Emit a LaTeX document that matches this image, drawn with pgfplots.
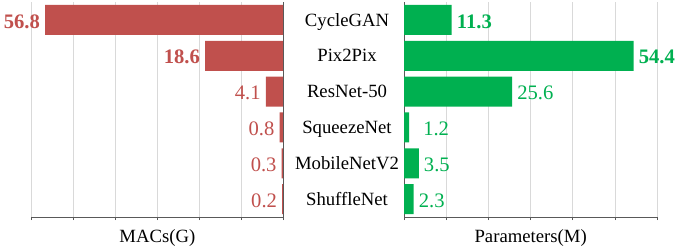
\documentclass[border=0pt]{standalone}
\usepackage{pgfplots}
\pgfplotsset{compat=1.18}
\usepackage{fontspec}
\setmainfont{Liberation Serif}
\definecolor{barred}{RGB}{192,80,77}
\definecolor{bargreen}{RGB}{0,176,80}
\definecolor{axgray}{RGB}{89,89,89}
\definecolor{gridgray}{RGB}{217,217,217}
\newcommand{\catfont}{\fontsize{18.7}{20}\selectfont}
\newcommand{\valfont}{\fontsize{20.6}{22}\selectfont}
\pgfplotsset{
  common/.style={
    scale only axis,
    height=215pt,
    xbar,
    bar width=30pt,
    xmin=0, xmax=60,
    ymin=-0.5, ymax=5.5,
    y dir=reverse,
    ytick={0,1,2,3,4,5},
    xtick={0,10,20,30,40,50,60},
    xticklabels={},
    xtick align=outside,
    major tick length=3pt,
    ytick style={draw=none},
    xtick style={axgray, line width=0.8pt},
    xmajorgrids,
    grid style={gridgray, line width=0.8pt},
    axis line style={axgray, line width=0.9pt},
    axis x line*=bottom,
    nodes near coords,
    point meta=explicit symbolic,
    xlabel style={font=\catfont, at={(axis description cs:0.5,0)}, anchor=base, yshift=-25.7pt},
  }
}
\begin{document}
\begin{tikzpicture}
\useasboundingbox (0,0) rectangle (682pt,249pt);
\begin{axis}[common,
  at={(31.7pt,32pt)}, anchor=south west,
  width=251.3pt,
  x dir=reverse,
  axis y line*=right,
  yticklabel pos=right,
  yticklabels={CycleGAN,Pix2Pix,ResNet-50,SqueezeNet,MobileNetV2,ShuffleNet},
  yticklabel style={font=\catfont, anchor=center, text height=12.4pt, text depth=0pt, xshift=61pt},
  xlabel={MACs(G)},
  every node near coord/.append style={anchor=east, font=\valfont, color=barred, inner sep=0pt, xshift=-5pt, yshift=-1.5pt},
]
\addplot[fill=barred, draw=none] coordinates {
  (56.8,0) [\textbf{56.8}]
  (18.6,1) [\textbf{18.6}]
  (4.1,2) [4.1]
  (0.8,3) [0.8]
  (0.3,4) [0.3]
  (0.2,5) [0.2]
};
\end{axis}
\begin{axis}[common,
  at={(404pt,32pt)}, anchor=south west,
  width=253.3pt,
  axis y line*=left,
  yticklabels={},
  xlabel={Parameters(M)},
  every node near coord/.append style={anchor=west, font=\valfont, color=bargreen, inner sep=0pt, xshift=5pt, yshift=-1.5pt},
]
\addplot[fill=bargreen, draw=none] coordinates {
  (11.3,0) [\textbf{11.3}]
  (54.4,1) [\textbf{54.4}]
  (25.6,2) [25.6]
  (1.2,3) [\hspace*{9pt}1.2]
  (3.5,4) [3.5]
  (2.3,5) [2.3]
};
\end{axis}
\end{tikzpicture}
\end{document}
